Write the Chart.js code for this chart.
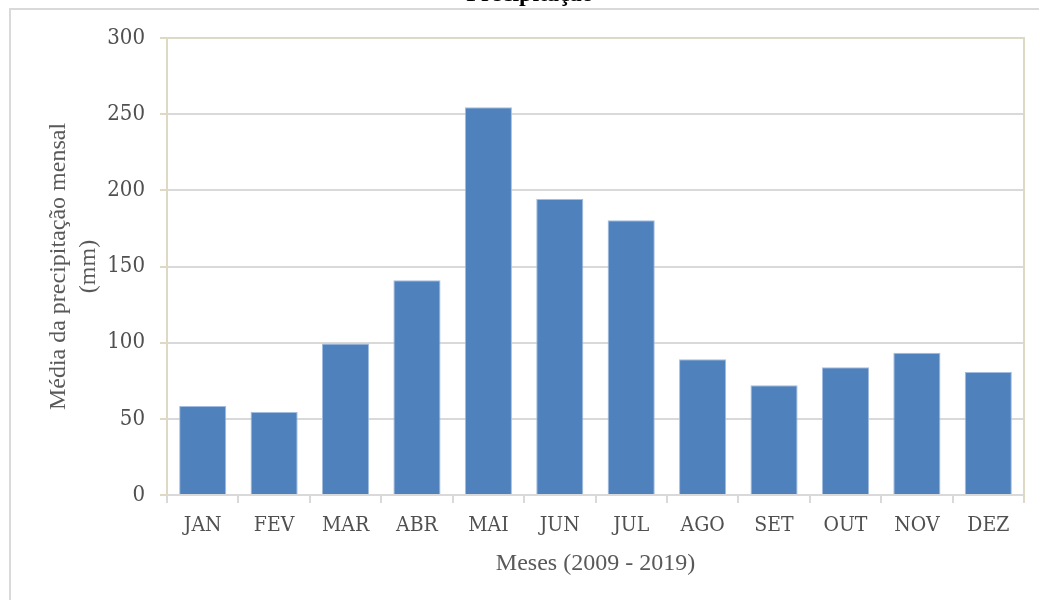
<!DOCTYPE html>
<html>
<head>
<meta charset="utf-8">
<script src="https://cdn.jsdelivr.net/npm/chart.js@4/dist/chart.umd.min.js"></script>
<style>
  html, body { margin: 0; padding: 0; background: #fff; overflow: hidden; }
  #wrap { position: relative; width: 1039px; height: 600px; }
  #frame { position: absolute; left: 9px; top: 8px; right: -10px; bottom: -10px;
           border-left: 2px solid #d9d9d9; border-top: 2px solid #d9d9d9; }
  canvas { position: absolute; left: 0; top: 0; }
</style>
</head>
<body>
<div id="wrap">
  <div id="frame"></div>
  <canvas id="c" width="1039" height="600"></canvas>
</div>
<script>
const chartTitle = 'Precipitação';
const months = ['JAN', 'FEV', 'MAR', 'ABR', 'MAI', 'JUN', 'JUL', 'AGO', 'SET', 'OUT', 'NOV', 'DEZ'];
const precipitation = [58.4, 54.5, 99.5, 141.0, 254.5, 194.3, 180.3, 89.1, 72.0, 83.8, 93.4, 80.7];
const yTitle = ['Média da precipitação mensal', '(mm)'];
const xTitle = 'Meses (2009 - 2019)';
const yMin = 0, yMax = 300, yStep = 50;

const BEIGE = '#ddd9c3';
const GRID = '#d9d9d9';
const TICK_FONT = "'DejaVu Serif Condensed', 'DejaVu Serif', serif";
const TEXT_FONT = "'Liberation Serif', 'Times New Roman', serif";

const topTitlePlugin = {
  id: 'topTitle',
  afterDraw(chart) {
    const ctx = chart.ctx;
    ctx.save();
    ctx.font = "bold 24px " + TEXT_FONT;
    ctx.fillStyle = '#000';
    ctx.textAlign = 'center';
    ctx.textBaseline = 'alphabetic';
    ctx.fillText(chartTitle, 530, 1);
    ctx.restore();
  }
};

const plotBorderPlugin = {
  id: 'plotBorder',
  afterDatasetsDraw(chart) {
    const a = chart.chartArea;
    const ctx = chart.ctx;
    ctx.save();
    ctx.strokeStyle = BEIGE;
    ctx.lineWidth = 2;
    ctx.beginPath();
    ctx.moveTo(a.left, a.bottom);
    ctx.lineTo(a.left, a.top);
    ctx.lineTo(a.right, a.top);
    ctx.lineTo(a.right, a.bottom + 7);
    ctx.stroke();
    ctx.restore();
  }
};

new Chart(document.getElementById('c'), {
  type: 'bar',
  data: {
    labels: months,
    datasets: [{
      data: precipitation,
      backgroundColor: '#4f81bd',
      borderColor: '#a3bde0',
      borderWidth: 1,
      barPercentage: 0.66,
      categoryPercentage: 1.0
    }]
  },
  options: {
    responsive: false,
    animation: false,
    devicePixelRatio: 1,
    layout: { padding: { left: 0, right: 15, top: 38, bottom: 0 } },
    plugins: {
      legend: { display: false },
      tooltip: { enabled: false },
      title: { display: false }
    },
    scales: {
      x: {
        afterFit(s) { s.height = 105; },
        grid: {
          offset: true,
          drawOnChartArea: false,
          drawTicks: true,
          tickLength: 8,
          color: GRID,
          lineWidth: 2
        },
        border: { display: true, color: GRID, width: 2 },
        ticks: {
          color: '#505050',
          font: { family: TICK_FONT, size: 21 },
          padding: 10,
          maxRotation: 0
        },
        title: {
          display: true,
          text: xTitle,
          color: '#595959',
          font: { family: TEXT_FONT, size: 24 },
          padding: { top: 0, bottom: 22 }
        }
      },
      y: {
        min: yMin,
        max: yMax,
        afterFit(s) { s.width = 167; },
        ticks: {
          stepSize: yStep,
          color: '#505050',
          font: { family: TICK_FONT, size: 22 },
          padding: 15
        },
        grid: {
          color: GRID,
          lineWidth: 2,
          tickLength: 7,
          tickColor: BEIGE,
          drawTicks: true
        },
        border: { display: true, color: BEIGE, width: 2 },
        title: {
          display: true,
          text: yTitle,
          color: '#595959',
          font: { family: TEXT_FONT, size: 24, lineHeight: 1.25 },
          padding: { top: 44, bottom: 0 }
        }
      }
    }
  },
  plugins: [topTitlePlugin, plotBorderPlugin]
});
</script>
</body>
</html>
